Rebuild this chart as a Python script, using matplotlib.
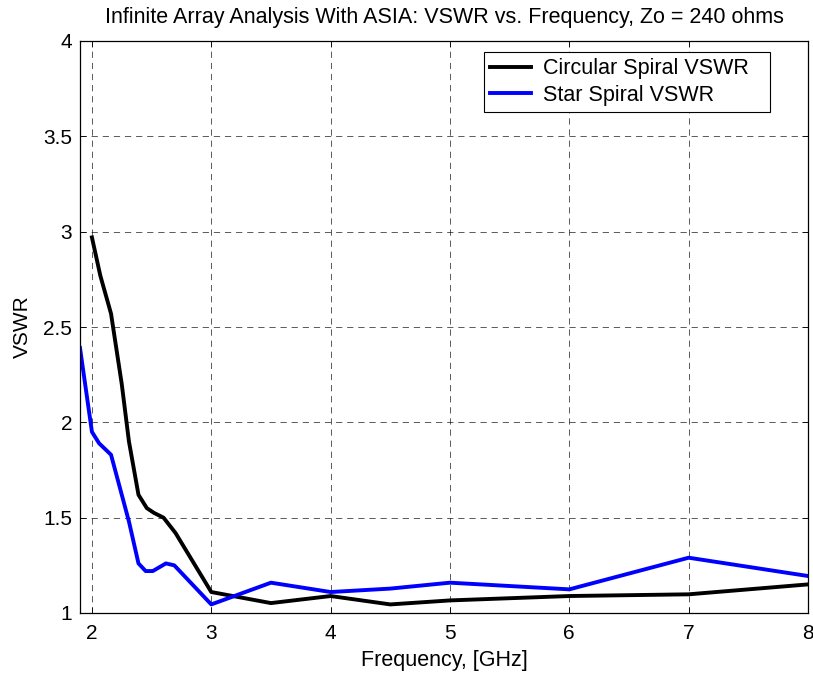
import numpy as np
import matplotlib
matplotlib.use("Agg")
import matplotlib.pyplot as plt

# --- data ---
freq_circ = [2.0, 2.07, 2.16, 2.25, 2.31, 2.39, 2.46, 2.52, 2.6, 2.7,
             3.0, 3.5, 4.0, 4.5, 5.0, 6.0, 7.0, 8.0]
vswr_circ = [2.97, 2.77, 2.57, 2.20, 1.90, 1.62, 1.55, 1.525, 1.50, 1.42,
             1.11, 1.052, 1.089, 1.045, 1.066, 1.089, 1.098, 1.150]

freq_star = [1.9, 2.0, 2.06, 2.16, 2.25, 2.31, 2.39, 2.45, 2.51, 2.62, 2.69,
             3.0, 3.5, 4.0, 4.5, 5.0, 6.0, 7.0, 8.0]
vswr_star = [2.39, 1.95, 1.89, 1.83, 1.62, 1.48, 1.26, 1.22, 1.22, 1.26, 1.25,
             1.045, 1.159, 1.110, 1.128, 1.159, 1.124, 1.290, 1.194]

xticks = [2, 3, 4, 5, 6, 7, 8]
yticks = [1, 1.5, 2, 2.5, 3, 3.5, 4]
ytick_labels = ["1", "1.5", "2", "2.5", "3", "3.5", "4"]

plt.rcParams['font.family'] = ['Liberation Sans', 'DejaVu Sans']
plt.rcParams['font.size'] = 15
plt.rcParams['lines.scale_dashes'] = False

fig = plt.figure(figsize=(8.13, 6.74), dpi=100)
ax = fig.add_axes([80/813, 1-613/674, 728/813, 572/674])

ax.plot(freq_circ, vswr_circ, color='k', lw=2.8, label='Circular Spiral VSWR')
ax.plot(freq_star, vswr_star, color='#0000ff', lw=2.8, label='Star Spiral VSWR')

ax.set_xlim(1.9, 8)
ax.set_ylim(1, 4)
ax.set_xticks(xticks)
ax.set_yticks(yticks)
ax.set_yticklabels(ytick_labels)
ax.tick_params(direction='in', length=4, width=0.6, top=True, right=True)
ax.tick_params(axis='x', pad=8)
ax.tick_params(axis='y', pad=5.5)
ax.grid(True, color='k', lw=0.6, linestyle=(0, (4.5, 3.5)), alpha=0.75)
for s in ax.spines.values():
    s.set_linewidth(0.9)

ax.set_xlabel("Frequency, [GHz]", fontsize=15.5, labelpad=5)
ax.set_ylabel("VSWR", labelpad=8)
ax.set_title("Infinite Array Analysis With ASIA: VSWR vs. Frequency, Zo = 240 ohms",
             fontsize=15.5, pad=13)

# legend box stretched to the right like the reference
leg = ax.legend(loc='upper left', bbox_to_anchor=(0.555, 0.5, 0.393, 0.481),
                mode='expand', borderaxespad=0,
                fancybox=False, edgecolor='k', framealpha=1, borderpad=0.3,
                handlelength=1.86, handletextpad=0.6, labelspacing=0.25,
                prop={'size': 15.5})
leg.get_frame().set_linewidth(0.8)

fig.savefig("out.png", dpi=100)
